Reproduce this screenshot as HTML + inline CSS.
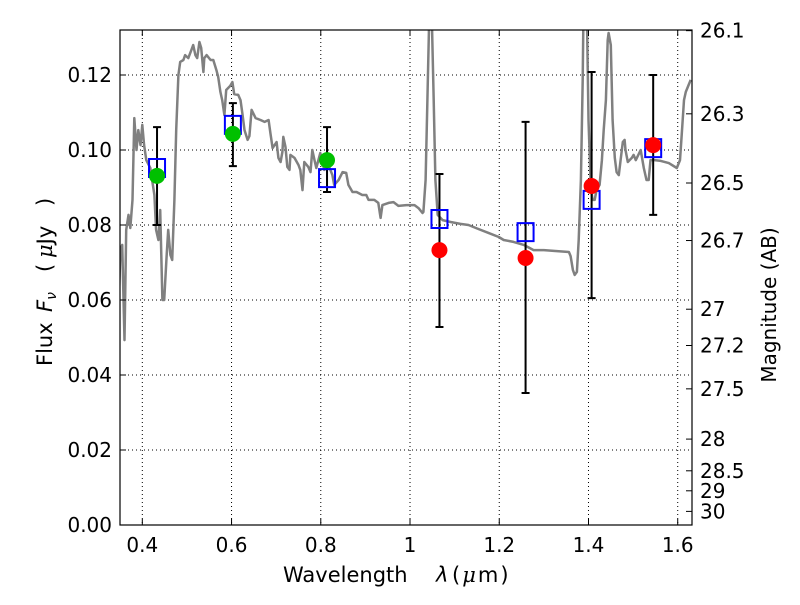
<!DOCTYPE html>
<html><head><meta charset="utf-8"><style>
body{margin:0;background:#fff;width:800px;height:600px;overflow:hidden}
svg text{font-family:"DejaVu Sans","Liberation Sans",sans-serif;fill:#000;white-space:pre}
</style></head><body>
<svg id="chart" width="800" height="600" xmlns="http://www.w3.org/2000/svg"></svg>
<script>
const specLam=[0.346,0.351,0.355,0.360,0.364,0.369,0.373,0.378,0.382,0.387,0.391,0.396,0.400,0.404,0.409,0.418,0.427,0.431,0.436,0.440,0.445,0.449,0.454,0.458,0.463,0.467,0.472,0.476,0.481,0.485,0.492,0.496,0.503,0.510,0.514,0.519,0.523,0.528,0.532,0.537,0.539,0.544,0.553,0.559,0.566,0.570,0.575,0.579,0.584,0.588,0.597,0.602,0.606,0.615,0.620,0.624,0.629,0.636,0.640,0.645,0.654,0.665,0.674,0.683,0.687,0.692,0.701,0.705,0.710,0.714,0.716,0.721,0.725,0.730,0.732,0.741,0.750,0.754,0.759,0.763,0.772,0.777,0.781,0.786,0.790,0.799,0.808,0.817,0.826,0.830,0.840,0.849,0.857,0.862,0.871,0.880,0.893,0.902,0.907,0.920,0.929,0.934,0.938,0.952,0.963,0.974,0.992,1.010,1.019,1.028,1.030,1.035,1.039,1.044,1.048,1.053,1.057,1.062,1.073,1.091,1.113,1.131,1.154,1.176,1.199,1.210,1.232,1.255,1.277,1.300,1.322,1.356,1.360,1.365,1.369,1.374,1.378,1.383,1.387,1.389,1.396,1.400,1.405,1.409,1.414,1.418,1.425,1.430,1.434,1.439,1.443,1.445,1.450,1.454,1.459,1.463,1.468,1.472,1.477,1.481,1.483,1.488,1.497,1.501,1.506,1.517,1.524,1.530,1.535,1.539,1.548,1.562,1.580,1.598,1.605,1.609,1.614,1.618,1.629];
const specFlux=[0.0547,0.0733,0.0747,0.0493,0.0787,0.0827,0.0792,0.0867,0.1085,0.1000,0.1053,0.1013,0.1067,0.1013,0.0973,0.0952,0.0880,0.0787,0.0760,0.0840,0.0600,0.0600,0.0707,0.0787,0.0720,0.0707,0.0867,0.1053,0.1200,0.1235,0.1240,0.1253,0.1245,0.1267,0.1280,0.1253,0.1245,0.1288,0.1272,0.1208,0.1245,0.1253,0.1240,0.1240,0.1213,0.1195,0.1155,0.1133,0.1093,0.1160,0.1171,0.1181,0.1149,0.1147,0.1133,0.1099,0.1053,0.1027,0.1037,0.1107,0.1085,0.1080,0.1075,0.1080,0.1045,0.1005,0.1021,0.0979,0.0968,0.0995,0.1035,0.1008,0.0955,0.0947,0.0987,0.0979,0.0960,0.0947,0.0893,0.0968,0.0955,0.0941,0.1000,0.0973,0.0952,0.0992,0.0947,0.0960,0.0933,0.0907,0.0920,0.0941,0.0939,0.0907,0.0888,0.0888,0.0880,0.0880,0.0867,0.0867,0.0859,0.0819,0.0853,0.0859,0.0861,0.0851,0.0853,0.0853,0.0845,0.0832,0.0835,0.0920,0.1133,0.1400,0.1400,0.1133,0.0920,0.0827,0.0813,0.0808,0.0803,0.0800,0.0789,0.0779,0.0768,0.0760,0.0755,0.0747,0.0733,0.0733,0.0731,0.0728,0.0717,0.0680,0.0667,0.0675,0.0760,0.0920,0.1187,0.1400,0.1400,0.1080,0.0907,0.0867,0.0867,0.0893,0.0907,0.0973,0.1053,0.1133,0.1293,0.1312,0.1280,0.1080,0.0979,0.0941,0.0933,0.0973,0.1021,0.1027,0.1000,0.0968,0.0979,0.0987,0.0973,0.1000,0.0952,0.0920,0.0920,0.0973,0.0973,0.0971,0.0965,0.0952,0.0973,0.1040,0.1133,0.1155,0.1187];
const obsLam=[0.433,0.603,0.814,1.066,1.259,1.407,1.545];
const obsFlux=[0.0931,0.1043,0.0973,0.0733,0.0712,0.0904,0.1013];
const obsColor=["#00c000","#00c000","#00c000","#ff0000","#ff0000","#ff0000","#ff0000"];
const errLo=[0.0800,0.0957,0.0888,0.0528,0.0352,0.0605,0.0827];
const errHi=[0.1061,0.1125,0.1061,0.0936,0.1075,0.1208,0.1200];
const modelFlux=[0.0952,0.1067,0.0925,0.0816,0.0781,0.0867,0.1005];
const xTicks=[0.4,0.6,0.8,1.0,1.2,1.4,1.6];
const xTickLabels=["0.4","0.6","0.8","1","1.2","1.4","1.6"];
const yTicks=[0,0.02,0.04,0.06,0.08,0.10,0.12];
const yTickLabels=["0.00","0.02","0.04","0.06","0.08","0.10","0.12"];
const magTicks=[26.1,26.3,26.5,26.7,27,27.2,27.5,28,28.5,29,30];
const magTickLabels=["26.1","26.3","26.5","26.7","27","27.2","27.5","28","28.5","29","30"];

const L=120,R=692,T=30,B=525,xmin=0.35,xmax=1.632,ymax=0.132;
const X=v=>L+(v-xmin)/(xmax-xmin)*(R-L);
const Y=v=>B-v/ymax*(B-T);
const svg=document.getElementById('chart');
const NS="http://www.w3.org/2000/svg";
function mk(tag,attrs,parent){const e=document.createElementNS(NS,tag);for(const k in attrs)e.setAttribute(k,attrs[k]);(parent||svg).appendChild(e);return e;}

const defs=mk('defs',{});
const cp=mk('clipPath',{id:'clip'},defs);mk('rect',{x:L,y:T,width:R-L,height:B-T},cp);

const grid=mk('g',{});


xTicks.forEach(v=>{mk('line',{x1:X(v),x2:X(v),y1:T,y2:B,stroke:'#000','stroke-width':1,'stroke-dasharray':'1,3'},grid);});
yTicks.forEach(v=>{mk('line',{x1:L,x2:R,y1:Y(v),y2:Y(v),stroke:'#000','stroke-width':1,'stroke-dasharray':'1,3'},grid);});

const pts=specLam.map((l,i)=>X(l).toFixed(1)+','+Y(specFlux[i]).toFixed(1)).join(' ');
const sp=mk('polyline',{points:pts,fill:'none',stroke:'#808080','stroke-width':2.5,'clip-path':'url(#clip)','stroke-linejoin':'round'});



obsLam.forEach((l,i)=>{
 const g=mk('g',{});
 
 
 const x=X(l);
 mk('line',{x1:x,x2:x,y1:Y(errLo[i]),y2:Y(errHi[i]),stroke:'#000','stroke-width':2},g);
 mk('line',{x1:x-4,x2:x+4,y1:Y(errLo[i]),y2:Y(errLo[i]),stroke:'#000','stroke-width':2},g);
 mk('line',{x1:x-4,x2:x+4,y1:Y(errHi[i]),y2:Y(errHi[i]),stroke:'#000','stroke-width':2},g);
});
obsLam.forEach((l,i)=>{
 const r=mk('rect',{x:X(l)-8,y:Y(modelFlux[i])-9,width:16,height:18,fill:'none',stroke:'#0000ff','stroke-width':2});
 
 
});
obsLam.forEach((l,i)=>{
 const c=mk('circle',{cx:X(l),cy:Y(obsFlux[i]),r:8,fill:obsColor[i]});
 
 
});

const fr=mk('rect',{x:L,y:T,width:R-L,height:B-T,fill:'none',stroke:'#000','stroke-width':1.2});



xTicks.forEach((v,i)=>{
 mk('line',{x1:X(v),x2:X(v),y1:B,y2:B-6,stroke:'#000'});
 mk('line',{x1:X(v),x2:X(v),y1:T,y2:T+6,stroke:'#000'});
 const t=mk('text',{x:X(v),y:B+27,'font-size':20,'text-anchor':'middle'});
 
 
 t.textContent=xTickLabels[i];
});
yTicks.forEach((v,i)=>{
 mk('line',{x1:L,x2:L+6,y1:Y(v),y2:Y(v),stroke:'#000'});
 const t=mk('text',{x:L-8,y:Y(v)+7,'font-size':20,'text-anchor':'end'});
 
 
 t.textContent=yTickLabels[i];
});
magTicks.forEach((m,i)=>{
 const f=Math.pow(10,(23.9-m)/2.5);
 const y=Y(f);
 mk('line',{x1:R,x2:R-6,y1:y,y2:y,stroke:'#000'});
 const t=mk('text',{x:R+8,y:y+7,'font-size':20,'text-anchor':'start'});
 
 
 t.textContent=magTickLabels[i];
});
</script>
<svg width="800" height="600" style="position:absolute;left:0;top:0" xmlns="http://www.w3.org/2000/svg">
<g font-size="21">
<text x="283" y="582">Wavelength</text>
<text x="436" y="582" font-family="DejaVu Serif" font-style="italic">λ</text>
<text x="452" y="582" letter-spacing="2">(<tspan font-family="DejaVu Serif" font-style="italic">μ</tspan>m)</text>
</g>
<g font-size="21">
<text transform="translate(52,366) rotate(-90)">Flux</text>
<text transform="translate(52,312) rotate(-90)" font-family="DejaVu Serif" font-style="italic">F<tspan font-size="14" dy="4">ν</tspan></text>
<text transform="translate(52,272) rotate(-90)">(</text>
<text transform="translate(52,258) rotate(-90)"><tspan font-family="DejaVu Serif" font-style="italic">μ</tspan>Jy</text>
<text transform="translate(52,206) rotate(-90)">)</text>
</g>
<text transform="translate(776,305) rotate(-90)" font-size="20" text-anchor="middle">Magnitude (AB)</text>
</svg>
</body></html>
